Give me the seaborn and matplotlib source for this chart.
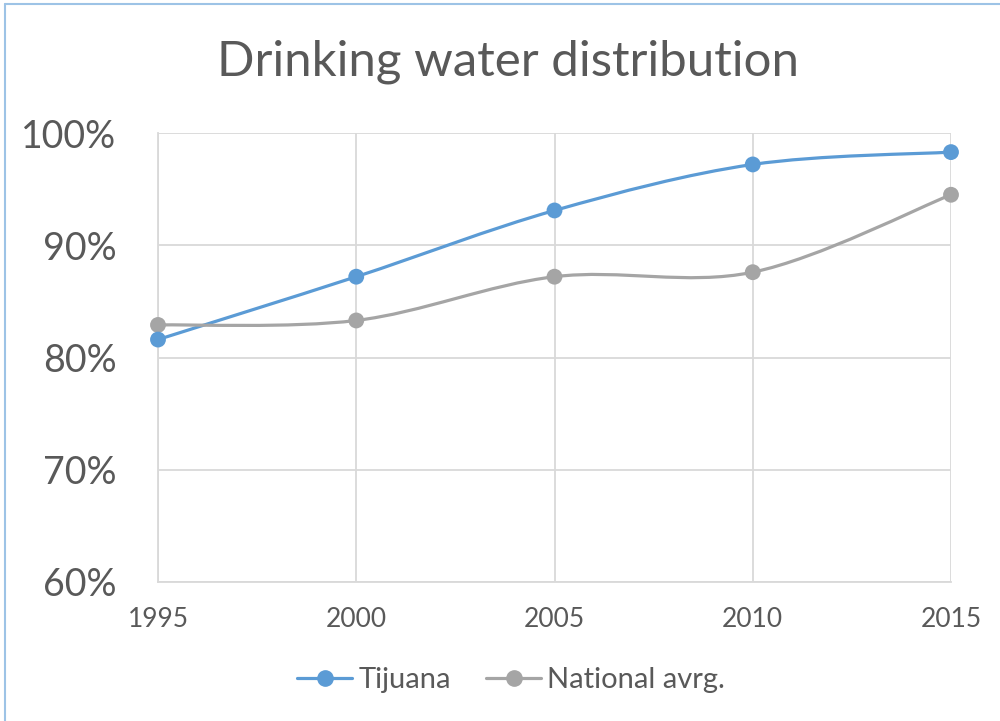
import matplotlib.pyplot as plt
import numpy as np
import seaborn as sns
from matplotlib.path import Path
from matplotlib.patches import PathPatch
from matplotlib.lines import Line2D
from matplotlib.ticker import FuncFormatter

years = [1995, 2000, 2005, 2010, 2015]
tijuana = [81.6, 87.2, 93.1, 97.2, 98.3]
national = [82.9, 83.3, 87.2, 87.6, 94.5]
series_names = ["Tijuana", "National avrg."]
series_colors = ["#5b9bd5", "#a5a5a5"]


def smooth_path(xs, ys):
    # Excel-like smoothed line: cubic Bezier segments (Catmull-Rom style)
    pts = np.column_stack([xs, ys]).astype(float)
    verts = [pts[0]]
    codes = [Path.MOVETO]
    n = len(pts)
    for i in range(n - 1):
        p0 = pts[max(i - 1, 0)]
        p1 = pts[i]
        p2 = pts[i + 1]
        p3 = pts[min(i + 2, n - 1)]
        c1 = p1 + (p2 - p0) / 6.0
        c2 = p2 - (p3 - p1) / 6.0
        verts += [c1, c2, p2]
        codes += [Path.CURVE4] * 3
    return Path(verts, codes)


sns.set_style("white")
plt.rcParams["font.family"] = ["Lato", "DejaVu Sans"]
text_color = "#595959"
grid_color = "#d9d9d9"

fig = plt.figure(figsize=(10, 7.21), dpi=100)
ax = fig.add_axes([0.158, 0.1928, 0.793, 0.6227])

for name, vals, col in zip(series_names, [tijuana, national], series_colors):
    patch = PathPatch(smooth_path(years, vals), facecolor="none", edgecolor=col,
                      lw=2.3, capstyle="round", joinstyle="round", zorder=3)
    ax.add_patch(patch)
for name, vals, col in zip(series_names[::-1], [national, tijuana], series_colors[::-1]):
    sns.scatterplot(x=years, y=vals, color=col, s=130, edgecolor="none", ax=ax,
                    zorder=4, clip_on=False)

ax.set_xlim(1995, 2015)
ax.set_ylim(60, 100)
ax.set_xticks(years)
ax.set_yticks([60, 70, 80, 90, 100])
ax.yaxis.set_major_formatter(FuncFormatter(lambda v, p: f"{v:.0f}%"))
ax.grid(True, color=grid_color, lw=1.3)
ax.set_axisbelow(True)
for side in ["top", "right"]:
    ax.spines[side].set_visible(False)
for side in ["left", "bottom"]:
    ax.spines[side].set_color(grid_color)
    ax.spines[side].set_linewidth(1.3)
ax.tick_params(axis="y", length=0, pad=30, labelsize=27, labelcolor=text_color)
ax.tick_params(axis="x", length=0, pad=18, labelsize=19, labelcolor=text_color)
ax.set_xlabel("")
ax.set_ylabel("")

fig.text(0.508, 0.915, "Drinking water distribution", ha="center", va="center",
         fontsize=35.5, color=text_color)

handles = [Line2D([0], [0], color=c, lw=2.3, marker="o", markersize=11) for c in series_colors]
fig.legend(handles, series_names, loc="center", bbox_to_anchor=(0.511, 0.057), ncol=2,
           frameon=False, fontsize=21, labelcolor=text_color, handlelength=1.9,
           handletextpad=0.2, columnspacing=1.2)

# light blue chart frame
fig.add_artist(Line2D([0.005, 0.005], [0, 0.995], transform=fig.transFigure,
                      color="#9dc3e6", lw=1.5))
fig.add_artist(Line2D([0.005, 1.0], [0.995, 0.995], transform=fig.transFigure,
                      color="#9dc3e6", lw=1.5))

fig.savefig("out.png", dpi=100)
